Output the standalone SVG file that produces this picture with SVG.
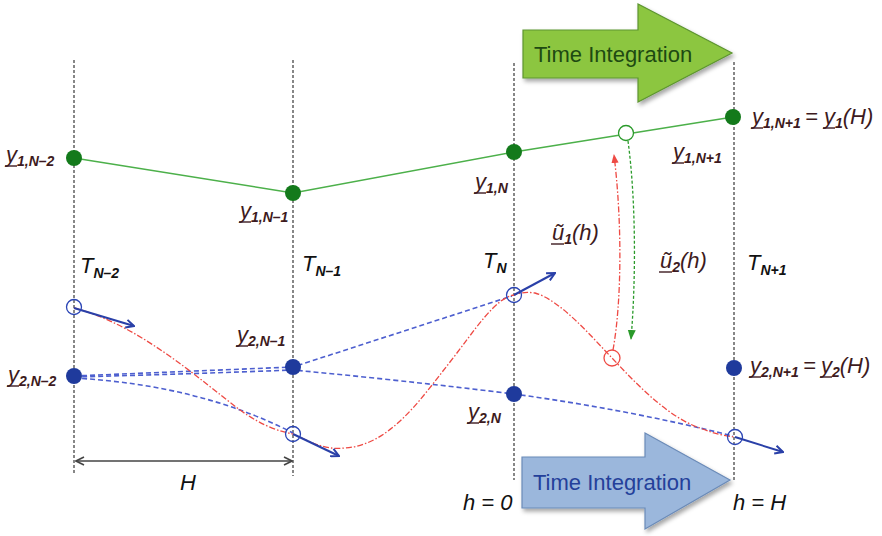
<svg xmlns="http://www.w3.org/2000/svg" width="882" height="536" viewBox="0 0 882 536">
<defs>
<style>
.vl{stroke:#555;stroke-width:1.4;stroke-dasharray:3 2;fill:none}
.lab{font-family:"Liberation Sans",Arial,sans-serif;font-style:italic;fill:#3d1a20}
.main{font-size:22px}
.sub{font-size:14px;font-weight:bold}
.tl{font-family:"Liberation Sans",Arial,sans-serif;font-style:italic;fill:#111}
.ul{stroke:#3d1a20;stroke-width:1.4}
.gdot{fill:#137a1b}
.bdot{fill:#1f3a9c}
.bopen{fill:none;stroke:#2b45b5;stroke-width:1.3}
.bdash{fill:none;stroke:#4d5fcf;stroke-width:1.6;stroke-dasharray:5 3}
.barr{fill:none;stroke:#2a40a8;stroke-width:2;marker-end:url(#va)}
.red{fill:none;stroke:#ee4a44;stroke-width:1.3;stroke-dasharray:6 2 1.5 2}
.big{font-family:"Liberation Sans",Arial,sans-serif;font-size:22px}
</style>
<marker id="va" viewBox="0 0 10 10" refX="9" refY="5" markerWidth="10" markerHeight="10" markerUnits="userSpaceOnUse" orient="auto">
<polyline points="1,1 9,5 1,9" fill="none" stroke="#2a40a8" stroke-width="2"/>
</marker>
<marker id="ha" viewBox="0 0 10 10" refX="9" refY="5" markerWidth="10" markerHeight="10" markerUnits="userSpaceOnUse" orient="auto-start-reverse">
<polyline points="1,1 9,5 1,9" fill="none" stroke="#444" stroke-width="1.6"/>
</marker>
<marker id="ra" viewBox="0 0 10 10" refX="9" refY="5" markerWidth="9" markerHeight="9" markerUnits="userSpaceOnUse" orient="auto">
<polygon points="0,1 10,5 0,9" fill="#ee4a44"/>
</marker>
<marker id="ga" viewBox="0 0 10 10" refX="9" refY="5" markerWidth="10" markerHeight="10" markerUnits="userSpaceOnUse" orient="auto">
<polygon points="0,1 10,5 0,9" fill="#2a9a2a"/>
</marker>
<filter id="sh" x="-10%" y="-10%" width="130%" height="130%">
<feDropShadow dx="2" dy="3" stdDeviation="2" flood-color="#000" flood-opacity="0.35"/>
</filter>
</defs>
<rect width="882" height="536" fill="#fff"/>

<g id="gridlines">
<line class="vl" x1="74" y1="60" x2="74" y2="475"/>
<line class="vl" x1="293" y1="60" x2="293" y2="476"/>
<line class="vl" x1="514" y1="63" x2="514" y2="480"/>
<line class="vl" x1="734" y1="62" x2="734" y2="482"/>
</g>

<g id="arrow-top">
<polygon points="523,30 638,30 638,4 732,53 638,102 638,78 523,78" fill="#8cc63f" stroke="#5d9530" stroke-width="1.2" filter="url(#sh)"/>
<text class="big" x="534" y="62" fill="#1e4a12">Time Integration</text>
</g>
<g id="arrow-bottom">
<polygon points="522,457 645,457 645,433 730,480 645,529 645,508 522,508" fill="#9bb7dc" stroke="#6b8bb8" stroke-width="1.2" filter="url(#sh)"/>
<text class="big" x="533" y="490" fill="#24409a">Time Integration</text>
</g>

<g id="connectors">
<polyline points="74,158 293,193 514,152 733,117" fill="none" stroke="#4cb04a" stroke-width="1.5"/>
<path class="bdash" d="M74,376 L293,367 L512,296"/>
<path class="bdash" d="M74,377 Q190,374 293,370 Q400,380 514,394 Q630,410 733,436"/>
<path class="bdash" d="M74,378 Q200,385 293,433"/>
<path class="red" d="M74,308 C140,325 200,380 240,410 C265,428 283,432 293,434 C315,444 325,450 345,448 C390,445 420,400 450,362 C475,330 495,298 514,295 C522,292 528,292 535,293 C560,300 590,335 612,358 C640,388 670,418 700,428 C715,434 725,436 735,437"/>
<path class="red" d="M613,350 C622,300 622,220 614,155" marker-end="url(#ra)"/>
<path d="M628,141 C636,200 636,280 631,339" fill="none" stroke="#2a9a2a" stroke-width="1.3" stroke-dasharray="3 2" marker-end="url(#ga)"/>
<line class="barr" x1="74" y1="308" x2="134" y2="326"/>
<line class="barr" x1="293" y1="434" x2="339" y2="456"/>
<line class="barr" x1="514" y1="295" x2="555" y2="273"/>
<line class="barr" x1="735" y1="437" x2="783" y2="452"/>
<line x1="76" y1="461" x2="292" y2="461" stroke="#444" stroke-width="1.6" marker-start="url(#ha)" marker-end="url(#ha)"/>
</g>

<g id="y1-nodes">
<circle class="gdot" cx="74" cy="158" r="8"/>
<circle class="gdot" cx="293" cy="193" r="8"/>
<circle class="gdot" cx="514" cy="152" r="8"/>
<circle class="gdot" cx="733" cy="117" r="8"/>
<circle cx="626" cy="133" r="7.5" fill="#fff" stroke="#2a9a2a" stroke-width="1.3"/>
</g>
<g id="y2-nodes">
<circle class="bopen" cx="74" cy="307" r="7.5" fill="none"/>
<circle class="bdot" cx="74" cy="376" r="8"/>
<circle class="bdot" cx="293" cy="367" r="8"/>
<circle class="bopen" cx="293" cy="434" r="7.5"/>
<circle class="bopen" cx="514" cy="295" r="7.5"/>
<circle class="bdot" cx="514" cy="394" r="8"/>
<circle class="bdot" cx="734" cy="368" r="8"/>
<circle class="bopen" cx="735" cy="437" r="7.5"/>
<circle cx="612" cy="358" r="8" fill="none" stroke="#ee4a44" stroke-width="1.3"/>
</g>

<g id="labels-y1">
<text class="lab" x="6" y="162"><tspan class="main">y</tspan><tspan class="sub" dy="4">1,N–2</tspan></text>
<line class="ul" x1="5" y1="166" x2="17" y2="166"/>
<text class="lab" x="240" y="218"><tspan class="main">y</tspan><tspan class="sub" dy="4">1,N–1</tspan></text>
<line class="ul" x1="239" y1="222" x2="251" y2="222"/>
<text class="lab" x="475" y="189"><tspan class="main">y</tspan><tspan class="sub" dy="4">1,N</tspan></text>
<line class="ul" x1="474" y1="193" x2="486" y2="193"/>
<text class="lab" x="752" y="124"><tspan class="main">y</tspan><tspan class="sub" dy="4">1,N+1</tspan><tspan class="main" x="805" dy="-4">=</tspan><tspan class="main" x="824">y</tspan><tspan class="sub" dy="4">1</tspan><tspan class="main" dy="-4">(H)</tspan></text>
<line class="ul" x1="751" y1="128" x2="763" y2="128"/>
<line class="ul" x1="823" y1="128" x2="835" y2="128"/>
<text class="lab" x="673" y="159"><tspan class="main">y</tspan><tspan class="sub" dy="4">1,N+1</tspan></text>
<line class="ul" x1="672" y1="163" x2="684" y2="163"/>
</g>

<g id="labels-u">
<text class="lab" x="552" y="240"><tspan class="main">ũ</tspan><tspan class="sub" dy="4">1</tspan><tspan class="main" dy="-4">(h)</tspan></text>
<line class="ul" x1="551" y1="244" x2="564" y2="244"/>
<text class="lab" x="660" y="268"><tspan class="main">ũ</tspan><tspan class="sub" dy="4">2</tspan><tspan class="main" dy="-4">(h)</tspan></text>
<line class="ul" x1="659" y1="272" x2="672" y2="272"/>
</g>

<g id="labels-T">
<text class="tl" x="80" y="273"><tspan class="main">T</tspan><tspan class="sub" dy="5">N–2</tspan></text>
<text class="tl" x="302" y="271"><tspan class="main">T</tspan><tspan class="sub" dy="5">N–1</tspan></text>
<text class="tl" x="483" y="268"><tspan class="main">T</tspan><tspan class="sub" dy="5">N</tspan></text>
<text class="tl" x="747" y="270"><tspan class="main">T</tspan><tspan class="sub" dy="5">N+1</tspan></text>
</g>

<g id="labels-y2">
<text class="lab" x="8" y="382"><tspan class="main">y</tspan><tspan class="sub" dy="4">2,N–2</tspan></text>
<line class="ul" x1="7" y1="386" x2="19" y2="386"/>
<text class="lab" x="237" y="342"><tspan class="main">y</tspan><tspan class="sub" dy="4">2,N–1</tspan></text>
<line class="ul" x1="236" y1="346" x2="248" y2="346"/>
<text class="lab" x="468" y="419"><tspan class="main">y</tspan><tspan class="sub" dy="4">2,N</tspan></text>
<line class="ul" x1="467" y1="423" x2="479" y2="423"/>
<text class="lab" x="750" y="373"><tspan class="main">y</tspan><tspan class="sub" dy="4">2,N+1</tspan><tspan class="main" x="803" dy="-4">=</tspan><tspan class="main" x="821">y</tspan><tspan class="sub" dy="4">2</tspan><tspan class="main" dy="-4">(H)</tspan></text>
<line class="ul" x1="749" y1="377" x2="761" y2="377"/>
<line class="ul" x1="820" y1="377" x2="832" y2="377"/>
</g>

<g id="labels-h">
<text class="tl main" x="463" y="510">h = 0</text>
<text class="tl main" x="733" y="510">h = H</text>
<text class="tl main" x="180" y="490">H</text>
</g>
</svg>
